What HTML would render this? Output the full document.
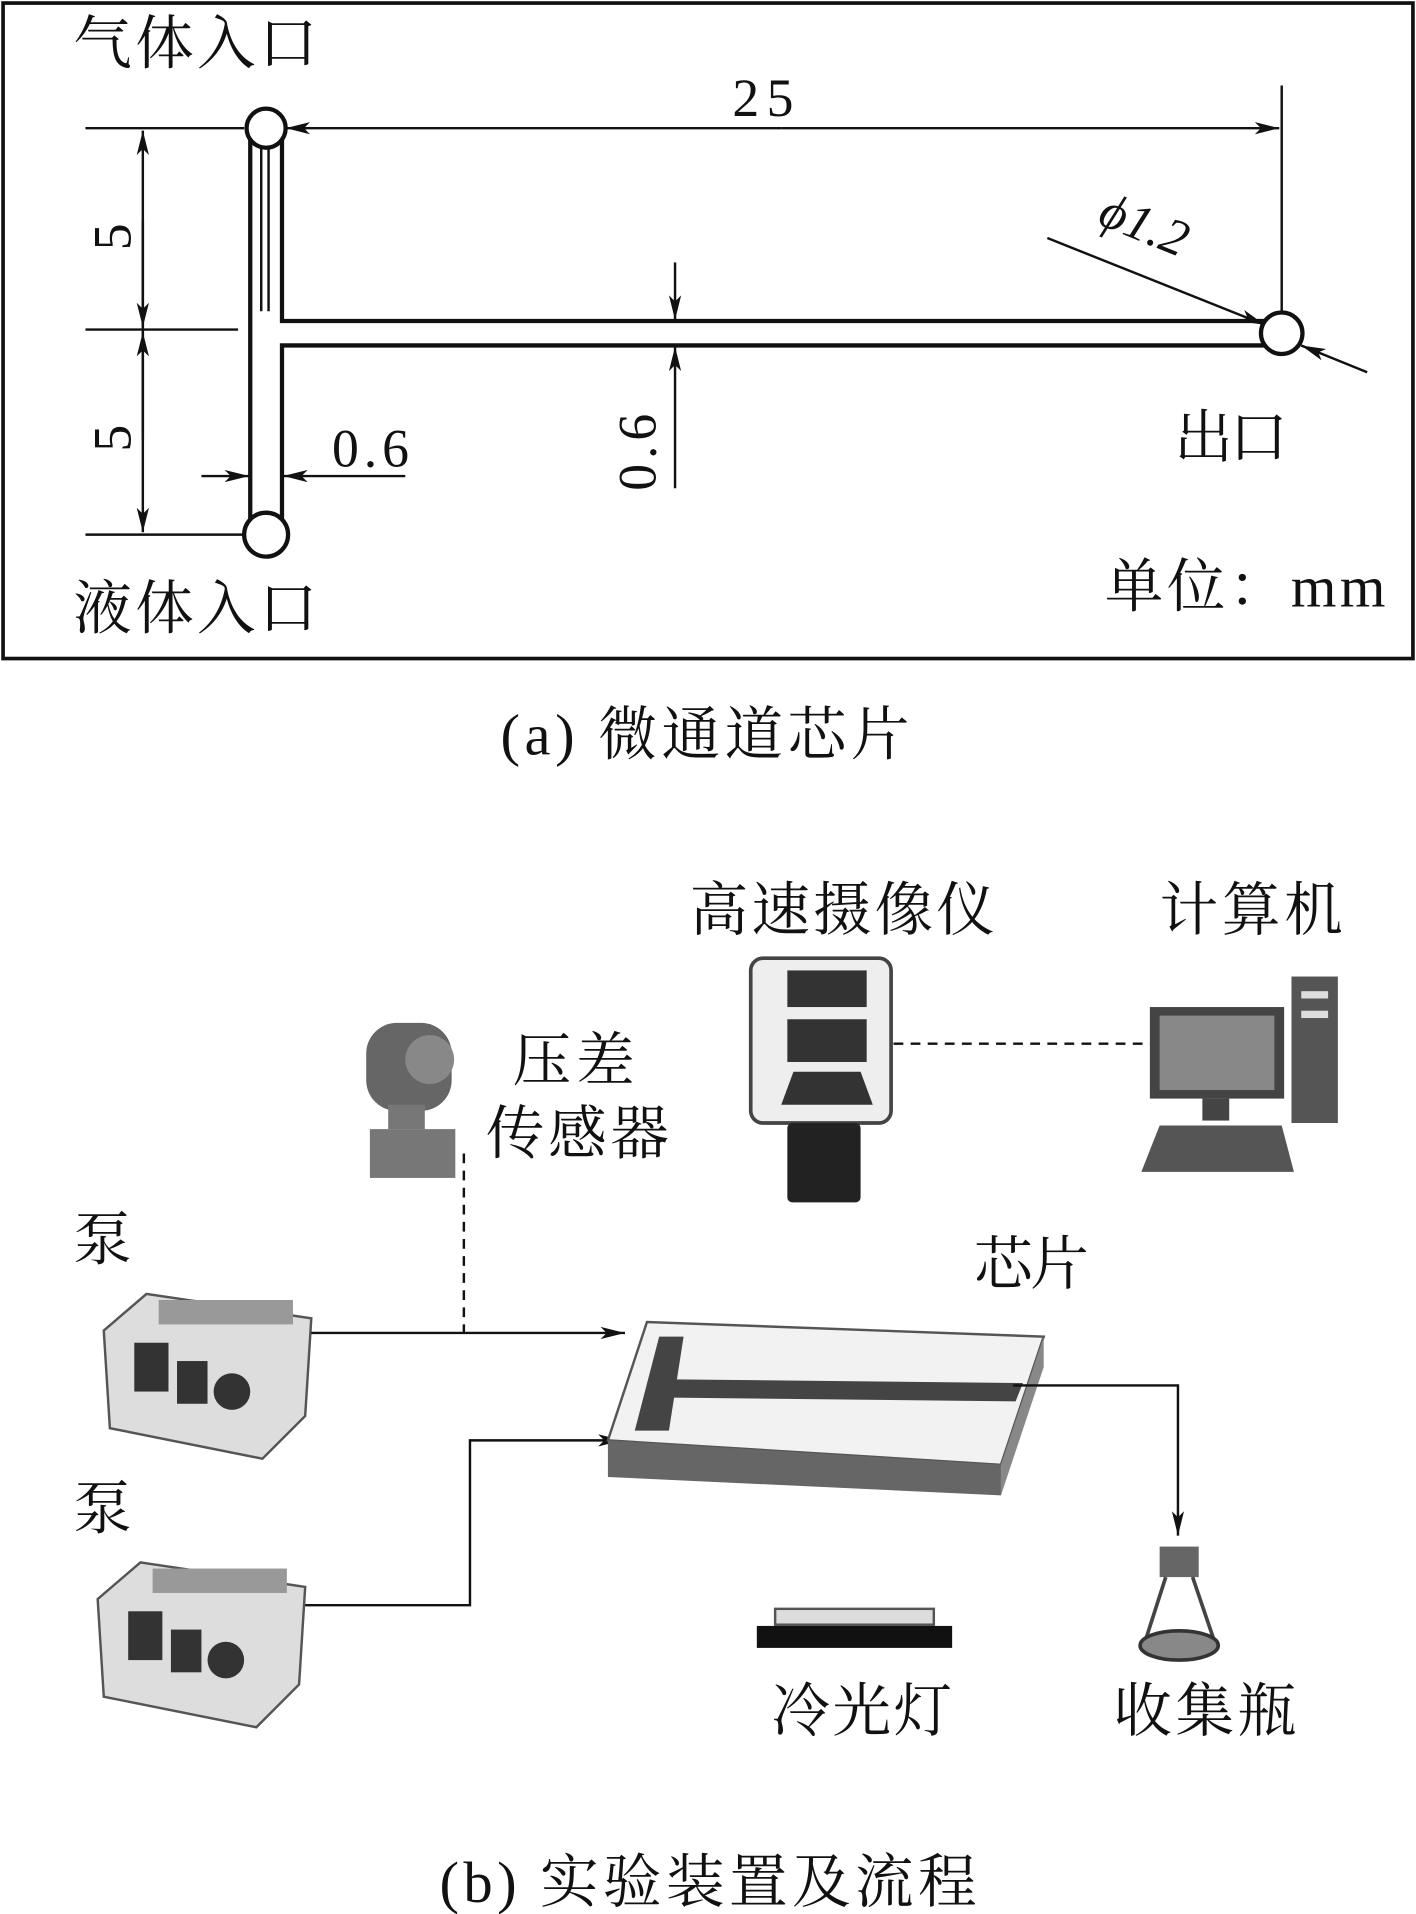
<!DOCTYPE html>
<html><head><meta charset="utf-8"><style>
html,body{margin:0;padding:0;background:#fff;}
svg{display:block;}
text{font-family:"Liberation Serif","Noto Serif CJK SC",serif;fill:#111;}
</style></head><body>
<svg width="1416" height="1914" viewBox="0 0 1160 1568" xmlns="http://www.w3.org/2000/svg">
<defs>
<marker id="ar" viewBox="0 0 20 10" refX="20" refY="5" markerWidth="20" markerHeight="10" markerUnits="userSpaceOnUse" orient="auto"><path d="M0,0 L20,5 L0,10 L5,5 Z" fill="#111"/></marker>
</defs>
<!-- (a) -->
<rect x="2.5" y="2.5" width="1155" height="537" fill="none" stroke="#111" stroke-width="3"/>
<g fill="none" stroke="#111" stroke-width="3.5">
<path d="M205,105 L205,438 M231,105 L231,263 L1040,263 M231,438 L231,283 L1040,283"/>
<path d="M214,118 L214,255 M220,118 L220,255" stroke-width="2"/>
<circle cx="218" cy="105" r="16" fill="#fff"/>
<circle cx="218" cy="438" r="18" fill="#fff"/>
<circle cx="1050" cy="273" r="17" fill="#fff"/>
</g>
<g stroke="#111" stroke-width="2" fill="none">
<line x1="70" y1="105" x2="200" y2="105"/>
<line x1="70" y1="270" x2="195" y2="270"/>
<line x1="70" y1="438" x2="200" y2="438"/>
<line x1="1050" y1="70" x2="1050" y2="256"/>
<line x1="117" y1="270" x2="117" y2="107" marker-end="url(#ar)"/>
<line x1="117" y1="270" x2="117" y2="436" marker-end="url(#ar)"/>
<line x1="117" y1="180" x2="117" y2="268" marker-end="url(#ar)"/>
<line x1="117" y1="360" x2="117" y2="272" marker-end="url(#ar)"/>
<line x1="640" y1="105" x2="234" y2="105" marker-end="url(#ar)"/>
<line x1="640" y1="105" x2="1048" y2="105" marker-end="url(#ar)"/>
<line x1="165" y1="390" x2="204" y2="390" marker-end="url(#ar)"/>
<line x1="332" y1="390" x2="232" y2="390" marker-end="url(#ar)"/>
<line x1="553" y1="215" x2="553" y2="262" marker-end="url(#ar)"/>
<line x1="553" y1="400" x2="553" y2="284" marker-end="url(#ar)"/>
<line x1="858" y1="195" x2="1036" y2="266" marker-end="url(#ar)"/>
<line x1="1120" y1="305" x2="1066" y2="283" stroke-width="2" marker-end="url(#ar)"/>
</g>
<text x="60" y="52" font-size="48" textLength="200">气体入口</text>
<text x="60" y="515" font-size="48" textLength="200">液体入口</text>
<text x="600" y="95" font-size="44" textLength="50">25</text>
<text x="0" y="0" font-size="44" transform="translate(107,205) rotate(-90)">5</text>
<text x="0" y="0" font-size="44" transform="translate(107,370) rotate(-90)">5</text>
<text x="272" y="382" font-size="44" textLength="63">0.6</text>
<text x="0" y="0" font-size="44" textLength="63" transform="translate(537,402) rotate(-90)">0.6</text>
<text x="0" y="0" font-size="42" font-style="italic" transform="translate(898,183) rotate(22)">ϕ1.2</text>
<text x="962" y="375" font-size="48" textLength="93">出口</text>
<text x="905" y="497" font-size="48" textLength="230">单位：mm</text>
<text x="410" y="618" font-size="48" textLength="335">(a)  微通道芯片</text>

<!-- (b) labels -->
<text x="565" y="762" font-size="48" textLength="250">高速摄像仪</text>
<text x="950" y="762" font-size="48" textLength="150">计算机</text>
<text x="420" y="885" font-size="48" textLength="100">压差</text>
<text x="398" y="945" font-size="48" textLength="150">传感器</text>
<text x="60" y="1032" font-size="48">泵</text>
<text x="60" y="1252" font-size="48">泵</text>
<text x="798" y="1052" font-size="48" textLength="94">芯片</text>
<text x="632" y="1418" font-size="48" textLength="148">冷光灯</text>
<text x="912" y="1418" font-size="48" textLength="150">收集瓶</text>
<text x="360" y="1558" font-size="48" textLength="440">(b)  实验装置及流程</text>

<!-- camera -->
<rect x="615" y="785" width="115" height="135" rx="10" fill="#eee" stroke="#444" stroke-width="3"/>
<rect x="645" y="795" width="65" height="30" fill="#333"/>
<rect x="645" y="835" width="65" height="35" fill="#333"/>
<path d="M650,878 L705,878 L715,905 L640,905 Z" fill="#333"/>
<rect x="645" y="920" width="60" height="65" rx="4" fill="#222"/>
<line x1="732" y1="855" x2="945" y2="855" stroke="#111" stroke-width="2" stroke-dasharray="8,6"/>
<!-- computer -->
<rect x="1058" y="800" width="38" height="120" fill="#555"/>
<rect x="1066" y="812" width="22" height="6" fill="#ddd"/>
<rect x="1066" y="828" width="22" height="6" fill="#ddd"/>
<rect x="942" y="825" width="110" height="75" fill="#444"/>
<rect x="950" y="832" width="94" height="61" fill="#888"/>
<rect x="985" y="900" width="22" height="18" fill="#444"/>
<path d="M950,922 L1050,922 L1060,960 L935,960 Z" fill="#555"/>
<!-- sensor -->
<rect x="300" y="838" width="70" height="72" rx="25" fill="#666"/>
<circle cx="352" cy="868" r="20" fill="#888"/>
<rect x="318" y="905" width="30" height="20" fill="#777"/>
<rect x="303" y="925" width="70" height="40" fill="#777"/>
<line x1="380" y1="945" x2="380" y2="1092" stroke="#111" stroke-width="2" stroke-dasharray="8,6"/>
<!-- pumps -->
<g id="pump">
<path d="M85,1090 L120,1060 L255,1080 L250,1160 L215,1195 L90,1170 Z" fill="#ddd" stroke="#555" stroke-width="2"/>
<rect x="110" y="1100" width="28" height="40" fill="#333"/>
<rect x="145" y="1115" width="25" height="35" fill="#333"/>
<circle cx="190" cy="1140" r="15" fill="#333"/>
<rect x="130" y="1065" width="110" height="20" fill="#999"/>
</g>
<use href="#pump" transform="translate(-5,220)"/>
<!-- flow lines -->
<line x1="255" y1="1092" x2="512" y2="1092" stroke="#111" stroke-width="2" marker-end="url(#ar)"/>
<path d="M250,1315 L385,1315 L385,1180 L510,1180" fill="none" stroke="#111" stroke-width="2" marker-end="url(#ar)"/>
<!-- chip -->
<path d="M498,1180 L530,1083 L855,1095 L820,1200 Z" fill="#f2f2f2" stroke="#555" stroke-width="2"/>
<path d="M498,1180 L498,1210 L820,1225 L820,1200 Z" fill="#666"/>
<path d="M820,1200 L820,1225 L855,1120 L855,1095 Z" fill="#888"/>
<path d="M540,1095 L560,1095 L548,1172 L520,1172 Z" fill="#444"/>
<path d="M552,1130 L838,1133 L832,1148 L550,1145 Z" fill="#444"/>
<path d="M830,1135 L965,1135 L965,1258" fill="none" stroke="#111" stroke-width="2" marker-end="url(#ar)"/>
<!-- lamp -->
<rect x="635" y="1318" width="130" height="13" fill="#ddd" stroke="#555" stroke-width="2"/>
<rect x="620" y="1332" width="160" height="18" fill="#111"/>
<!-- bottle -->
<rect x="950" y="1267" width="32" height="25" fill="#666"/>
<path d="M955,1292 L938,1345 M977,1292 L995,1345" stroke="#444" stroke-width="3"/>
<ellipse cx="966" cy="1348" rx="32" ry="12" fill="#888" stroke="#333" stroke-width="3"/>
</svg>
</body></html>
